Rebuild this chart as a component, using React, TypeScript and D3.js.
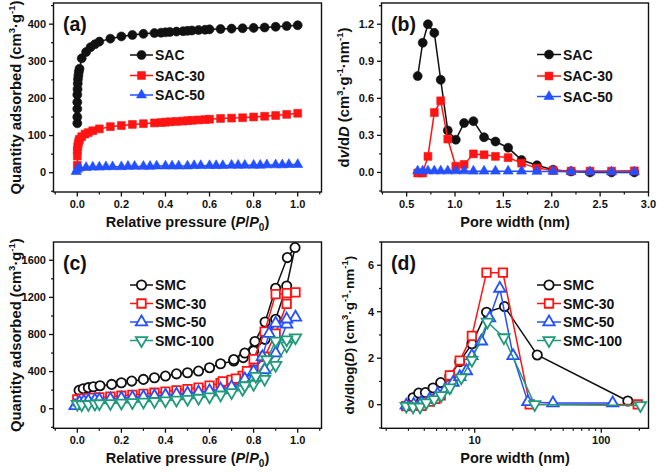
import React from "react";
import * as d3 from "d3";

type Pt = [number, number];
type Shape = "circle" | "square" | "triangle" | "down";

const FONT = "'Liberation Sans', Arial, Helvetica, sans-serif";
const NARROW = "'Liberation Sans Narrow', 'Liberation Sans', Arial, sans-serif";
const BLACK = "#111";
const RED = "#ff1414";
const BLUE = "#2450ff";
const GREEN = "#1f9a7a";

// (a) isotherms, P/P0 vs cm3/g
const sacIso: Pt[] = [
  [0, 133], [0, 150], [0, 172], [0, 190], [0, 210], [0.001, 225], [0.002, 240], [0.003, 252],
  [0.005, 262], [0.007, 272], [0.01, 280], [0.02, 308], [0.04, 325], [0.06, 338], [0.08, 346],
  [0.1, 353], [0.15, 361], [0.2, 367], [0.25, 371], [0.3, 374], [0.35, 376], [0.38, 377],
  [0.4, 378], [0.42, 379], [0.45, 380], [0.48, 381], [0.5, 382], [0.52, 383], [0.55, 384],
  [0.58, 385], [0.6, 386], [0.65, 387], [0.7, 388], [0.75, 389], [0.8, 390], [0.85, 391],
  [0.9, 393], [0.95, 395], [1.0, 397],
];
const sac30Iso: Pt[] = [
  [0, 20], [0, 45], [0, 60], [0.002, 70], [0.004, 78], [0.007, 85], [0.01, 90], [0.02, 97],
  [0.035, 104], [0.05, 108], [0.07, 113], [0.1, 118], [0.15, 124], [0.2, 127], [0.25, 130],
  [0.3, 132], [0.35, 134], [0.38, 135], [0.4, 136], [0.42, 137], [0.45, 138], [0.48, 139],
  [0.5, 140], [0.52, 141], [0.55, 142], [0.58, 143], [0.6, 144], [0.65, 146], [0.7, 147],
  [0.75, 148], [0.8, 150], [0.85, 152], [0.9, 154], [0.95, 157], [1.0, 160],
];
const sac50Iso: Pt[] = [
  [-0.005, 3], [0.0, 9], [0.01, 13], [0.04, 14], [0.07, 15], [0.1, 15], [0.13, 16], [0.16, 16],
  [0.2, 16], [0.23, 17], [0.26, 17], [0.3, 17], [0.33, 17], [0.36, 18], [0.4, 18], [0.43, 18],
  [0.46, 18], [0.5, 18], [0.53, 19], [0.56, 19], [0.6, 19], [0.63, 19], [0.66, 19], [0.7, 20],
  [0.73, 20], [0.76, 20], [0.8, 20], [0.83, 20], [0.86, 21], [0.9, 21], [0.93, 21], [0.96, 22],
  [1.0, 22],
];

// (b) pore size distribution, nm vs dV/dD
const psdWidth = [0.614, 0.666, 0.72, 0.786, 0.852, 0.925, 1.008, 1.094, 1.19, 1.3, 1.418, 1.549, 1.688, 1.847, 2.014, 2.2, 2.396, 2.618, 2.854];
const sacPsd = [0.78, 1.05, 1.2, 1.13, 0.75, 0.34, 0.265, 0.4, 0.415, 0.285, 0.25, 0.2, 0.1, 0.058, 0.022, 0.008, 0.0, 0.0, 0.0];
const sac30Psd = [-0.005, -0.005, 0.13, 0.485, 0.58, 0.27, 0.05, 0.065, 0.15, 0.143, 0.13, 0.12, 0.075, 0.035, 0.016, 0.011, 0.011, 0.011, 0.013];
const sac50Psd = [0.012, 0.012, 0.012, 0.012, 0.012, 0.012, 0.012, 0.012, 0.01, 0.01, 0.01, 0.01, 0.01, 0.008, 0.008, 0.006, 0.005, 0.004, 0.004];

// (c) isotherms with hysteresis: adsorption then desorption branch
const smcAds: Pt[] = [
  [0.008, 198], [0.027, 216], [0.05, 227], [0.073, 237], [0.103, 248], [0.156, 262], [0.2, 280],
  [0.247, 298], [0.3, 316], [0.35, 334], [0.4, 352], [0.45, 376], [0.5, 388], [0.55, 406],
  [0.6, 442], [0.65, 485], [0.71, 514], [0.753, 550], [0.8, 622], [0.852, 748], [0.9, 964],
  [0.95, 1323], [0.988, 1737],
];
const smcDes: Pt[] = [[0.953, 1629], [0.9, 1298], [0.852, 935], [0.806, 725], [0.76, 600], [0.71, 530]];
const smc30Ads: Pt[] = [
  [0, 100], [0.02, 108], [0.05, 114], [0.07, 118], [0.1, 122], [0.15, 130], [0.2, 140], [0.25, 150],
  [0.3, 160], [0.35, 172], [0.4, 185], [0.45, 198], [0.5, 212], [0.55, 228], [0.6, 250], [0.65, 275],
  [0.7, 310], [0.75, 355], [0.8, 420], [0.85, 560], [0.9, 810], [0.95, 1130], [0.99, 1255],
];
const smc30Des: Pt[] = [[0.95, 1245], [0.9, 1235], [0.85, 830], [0.8, 535], [0.77, 405], [0.72, 325], [0.66, 295]];
const smc50Ads: Pt[] = [
  [-0.01, 30], [0.01, 70], [0.03, 80], [0.05, 85], [0.08, 92], [0.1, 96], [0.15, 104], [0.2, 112],
  [0.25, 120], [0.3, 128], [0.35, 136], [0.4, 145], [0.45, 155], [0.5, 166], [0.55, 178], [0.6, 192],
  [0.65, 210], [0.7, 235], [0.75, 275], [0.8, 330], [0.85, 420], [0.9, 600], [0.95, 910], [0.99, 985],
];
const smc50Des: Pt[] = [[0.95, 965], [0.9, 920], [0.87, 810], [0.84, 560], [0.8, 400], [0.76, 320]];
const smc100Ads: Pt[] = [
  [0.0, 50], [0.02, 45], [0.05, 48], [0.08, 52], [0.1, 56], [0.15, 58], [0.2, 63], [0.25, 68],
  [0.3, 74], [0.35, 80], [0.4, 87], [0.45, 95], [0.5, 104], [0.55, 115], [0.6, 130], [0.65, 150],
  [0.7, 175], [0.75, 210], [0.8, 265], [0.85, 320], [0.9, 470], [0.95, 680], [0.99, 765],
];
const smc100Des: Pt[] = [[0.95, 745], [0.9, 730], [0.86, 530], [0.81, 350], [0.76, 250]];

// (d) pore size distribution, log nm vs dV/dlog(D)
const smcPsd: Pt[] = [
  [3.26, 0.3], [3.61, 0.5], [4.08, 0.52], [4.69, 0.72], [5.39, 0.95], [6.36, 1.23], [7.62, 1.85],
  [9.5, 2.62], [12.4, 3.98], [17.2, 4.22], [31.2, 2.14], [162, 0.16],
];
const smc30Psd: Pt[] = [
  [2.88, -0.06], [3.3, -0.04], [3.79, -0.05], [4.4, 0.13], [4.9, 0.25], [5.39, 0.4], [6.36, 1.26],
  [7.62, 1.9], [9.5, 2.96], [12.4, 5.68], [16.7, 5.68], [27.2, 0.01], [194, 0.01],
];
const smc50Psd: Pt[] = [
  [2.88, -0.03], [3.3, 0.01], [3.79, 0.09], [4.4, 0.23], [5.1, 0.45], [5.87, 0.66], [6.74, 0.95],
  [7.62, 1.2], [8.6, 1.45], [9.5, 2.1], [11.3, 2.73], [13.1, 3.73], [15.8, 5.0], [20.1, 2.1],
  [26.3, 0.12], [41.5, 0.07], [123, 0.07],
];
const smc100Psd: Pt[] = [
  [2.88, -0.06], [3.26, -0.09], [3.7, -0.09], [4.15, 0.09], [4.78, 0.23], [5.45, 0.4], [6.36, 0.73],
  [7.84, 1.16], [9.5, 1.92], [12.6, 3.56], [17.0, 2.89], [29.8, 0.01], [204, -0.03],
];

// ticks
const ppTicks = [0, 0.2, 0.4, 0.6, 0.8, 1.0];
const ppMinor = [-0.1, 0.1, 0.3, 0.5, 0.7, 0.9, 1.1];
const aYTicks = [0, 100, 200, 300, 400];
const aYMinor = [-50, 50, 150, 250, 350, 450];
const bXTicks = [0.5, 1.0, 1.5, 2.0, 2.5, 3.0];
const bXMinor = [0.25, 0.75, 1.25, 1.75, 2.25, 2.75];
const bYTicks = [0, 0.3, 0.6, 0.9, 1.2];
const bYMinor = [-0.15, 0.15, 0.45, 0.75, 1.05, 1.35];
const cYTicks = [0, 400, 800, 1200, 1600];
const cYMinor = [-200, 200, 600, 1000, 1400];
const dXTicks = [10, 100];
const dXMinor = [2, 3, 4, 5, 6, 7, 8, 9, 20, 30, 40, 50, 60, 70, 80, 90, 200];
const dYTicks = [0, 2, 4, 6];
const dYMinor = [-1, 1, 3, 5, 7];

type Series = { name: string; color: string; shape: Shape; data: Pt[] };

const zip = (xs: number[], ys: number[]): Pt[] => xs.map((v, i) => [v, ys[i]]);

const symType = (s: Shape) =>
  s === "circle" ? d3.symbolCircle : s === "square" ? d3.symbolSquare : d3.symbolTriangle;

const symSize = (s: Shape, open: boolean) => {
  if (s === "circle") return open ? 68 : 64;
  if (s === "square") return open ? 72 : 62;
  return open ? 56 : 44;
};

function Marker({ cx, cy, shape, color, open }: { cx: number; cy: number; shape: Shape; color: string; open: boolean }) {
  const d = d3.symbol().type(symType(shape)).size(symSize(shape, open))() || "";
  const rot = shape === "down" ? " rotate(180)" : "";
  return (
    <path
      d={d}
      transform={`translate(${cx},${cy})${rot}`}
      fill={open ? "#fff" : color}
      stroke={color}
      strokeWidth={open ? 1.8 : 0.6}
    />
  );
}

interface PanelProps {
  x: any;
  y: any;
  xTicks: number[];
  xMinor: number[];
  xFmt: (v: number) => string;
  yTicks: number[];
  yMinor: number[];
  yFmt: (v: number) => string;
  series: Series[];
  open: boolean;
  legend: { x0: number; x1: number; tx: number; rows: number[] };
  label: string;
  xTitle: React.ReactNode;
  yTitle: React.ReactNode;
  yTitleX: number;
  yTitleSize: number;
}

function Panel(p: PanelProps) {
  const [l, r] = p.x.range();
  const [b, t] = p.y.range();
  const line = d3.line<Pt>().x(d => p.x(d[0])).y(d => p.y(d[1]));
  return (
    <g>
      {p.series.map(s => (
        <g key={s.name}>
          <path d={line(s.data) || ""} fill="none" stroke={s.color} strokeWidth={1.5} />
          {s.data.map((d, i) => (
            <Marker key={i} cx={p.x(d[0])} cy={p.y(d[1])} shape={s.shape} color={s.color} open={p.open} />
          ))}
        </g>
      ))}
      <rect x={l} y={t} width={r - l} height={b - t} fill="none" stroke={BLACK} strokeWidth={1.4} />
      {p.xTicks.map(v => (
        <g key={"xt" + v}>
          <line x1={p.x(v)} x2={p.x(v)} y1={b} y2={b + 4.5} stroke={BLACK} strokeWidth={1.3} />
          <text x={p.x(v)} y={b + 15.5} textAnchor="middle" fontFamily={NARROW} fontWeight="bold" fontSize={11} fill={BLACK}>
            {p.xFmt(v)}
          </text>
        </g>
      ))}
      {p.xMinor.map(v => (
        <line key={"xm" + v} x1={p.x(v)} x2={p.x(v)} y1={b} y2={b + 2.5} stroke={BLACK} strokeWidth={1.2} />
      ))}
      {p.yTicks.map(v => (
        <g key={"yt" + v}>
          <line x1={l - 4.5} x2={l} y1={p.y(v)} y2={p.y(v)} stroke={BLACK} strokeWidth={1.3} />
          <text x={l - 7.5} y={p.y(v) + 3.8} textAnchor="end" fontFamily={NARROW} fontWeight="bold" fontSize={11} fill={BLACK}>
            {p.yFmt(v)}
          </text>
        </g>
      ))}
      {p.yMinor.map(v => (
        <line key={"ym" + v} x1={l - 2.5} x2={l} y1={p.y(v)} y2={p.y(v)} stroke={BLACK} strokeWidth={1.2} />
      ))}
      <text x={l + 9.5} y={t + 28} fontFamily={FONT} fontWeight="bold" fontSize={19.5} fill={BLACK}>
        {p.label}
      </text>
      {p.series.map((s, i) => {
        const yy = p.legend.rows[i];
        return (
          <g key={"lg" + s.name}>
            <line x1={p.legend.x0} x2={p.legend.x1} y1={yy} y2={yy} stroke={s.color} strokeWidth={1.5} />
            <Marker cx={(p.legend.x0 + p.legend.x1) / 2} cy={yy} shape={s.shape} color={s.color} open={p.open} />
            <text x={p.legend.tx} y={yy + 5} fontFamily={FONT} fontWeight="bold" fontSize={14} fill={BLACK}>
              {s.name}
            </text>
          </g>
        );
      })}
      <text x={(l + r) / 2} y={b + 34.5} textAnchor="middle" fontFamily={FONT} fontWeight="bold" fontSize={14.5} fill={BLACK}>
        {p.xTitle}
      </text>
      <text
        transform={`translate(${p.yTitleX},${(t + b) / 2}) rotate(-90)`}
        textAnchor="middle"
        fontFamily={FONT}
        fontWeight="bold"
        fontSize={p.yTitleSize}
        fill={BLACK}
      >
        {p.yTitle}
      </text>
    </g>
  );
}

const sup = (s: string) => [
  <tspan key={s + "a"} dy={-6} fontSize={9.5}>{s}</tspan>,
];

const ppTitle = (
  <>
    <tspan>Relative pressure (</tspan>
    <tspan fontStyle="italic">P</tspan>
    <tspan>/</tspan>
    <tspan fontStyle="italic">P</tspan>
    <tspan dy={4} fontSize={10}>0</tspan>
    <tspan dy={-4}>)</tspan>
  </>
);
const qTitle = (
  <>
    <tspan>Quantity adsorbed (cm</tspan>
    {sup("3")}
    <tspan dy={6}>·g</tspan>
    <tspan dy={-6} fontSize={9.5}>-1</tspan>
    <tspan dy={6}>)</tspan>
  </>
);
const unitTail = (
  <>
    <tspan> (cm</tspan>
    <tspan dy={-6} fontSize={9.5}>3</tspan>
    <tspan dy={6}>·g</tspan>
    <tspan dy={-6} fontSize={9.5}>-1</tspan>
    <tspan dy={6}>·nm</tspan>
    <tspan dy={-6} fontSize={9.5}>-1</tspan>
    <tspan dy={6}>)</tspan>
  </>
);
const bTitle = (
  <>
    <tspan>d</tspan>
    <tspan fontStyle="italic">v</tspan>
    <tspan>/d</tspan>
    <tspan fontStyle="italic">D</tspan>
    {unitTail}
  </>
);
const dTitle = (
  <>
    <tspan>dv/dlog(</tspan>
    <tspan fontStyle="italic">D</tspan>
    <tspan>)</tspan>
    {unitTail}
  </>
);
const pwTitle = <tspan>Pore width (nm)</tspan>;

export default function App() {
  const xa = d3.scaleLinear().domain([-0.108, 1.108]).range([53.5, 321.5]);
  const ya = d3.scaleLinear().domain([-52, 457]).range([192, 3]);
  const xb = d3.scaleLinear().domain([0.24, 3.0]).range([381.5, 648.5]);
  const yb = d3.scaleLinear().domain([-0.1585, 1.372]).range([192, 3]);
  const xc = d3.scaleLinear().domain([-0.108, 1.108]).range([53.5, 321.5]);
  const yc = d3.scaleLinear().domain([-211, 1797]).range([428.3, 242]);
  const xd = d3.scaleLog().domain([1.836, 236]).range([381.5, 648.5]);
  const yd = d3.scaleLinear().domain([-1.016, 7.0]).range([428.3, 242]);

  const f1 = d3.format(".1f");
  const f0 = d3.format("d");

  const aSeries: Series[] = [
    { name: "SAC", color: BLACK, shape: "circle", data: sacIso },
    { name: "SAC-30", color: RED, shape: "square", data: sac30Iso },
    { name: "SAC-50", color: BLUE, shape: "triangle", data: sac50Iso },
  ];
  const bSeries: Series[] = [
    { name: "SAC", color: BLACK, shape: "circle", data: zip(psdWidth, sacPsd) },
    { name: "SAC-30", color: RED, shape: "square", data: zip(psdWidth, sac30Psd) },
    { name: "SAC-50", color: BLUE, shape: "triangle", data: zip(psdWidth, sac50Psd) },
  ];
  const cSeries: Series[] = [
    { name: "SMC", color: BLACK, shape: "circle", data: [...smcAds, ...smcDes] },
    { name: "SMC-30", color: RED, shape: "square", data: [...smc30Ads, ...smc30Des] },
    { name: "SMC-50", color: BLUE, shape: "triangle", data: [...smc50Ads, ...smc50Des] },
    { name: "SMC-100", color: GREEN, shape: "down", data: [...smc100Ads, ...smc100Des] },
  ];
  const dSeries: Series[] = [
    { name: "SMC", color: BLACK, shape: "circle", data: smcPsd },
    { name: "SMC-30", color: RED, shape: "square", data: smc30Psd },
    { name: "SMC-50", color: BLUE, shape: "triangle", data: smc50Psd },
    { name: "SMC-100", color: GREEN, shape: "down", data: smc100Psd },
  ];

  return (
    <svg
      width={658}
      height={472}
      style={{ position: "absolute", left: 0, top: 0, background: "#fff" }}
    >
      <rect width={658} height={472} fill="#fff" />
      <Panel
        x={xa} y={ya} xTicks={ppTicks} xMinor={ppMinor} xFmt={f1}
        yTicks={aYTicks} yMinor={aYMinor} yFmt={f0}
        series={aSeries} open={false}
        legend={{ x0: 130, x1: 153, tx: 155, rows: [55, 75.5, 95] }}
        label="(a)" xTitle={ppTitle} yTitle={qTitle} yTitleX={21} yTitleSize={14.8}
      />
      <Panel
        x={xb} y={yb} xTicks={bXTicks} xMinor={bXMinor} xFmt={f1}
        yTicks={bYTicks} yMinor={bYMinor} yFmt={f1}
        series={bSeries} open={false}
        legend={{ x0: 537, x1: 561, tx: 563, rows: [54.5, 76, 96.5] }}
        label="(b)" xTitle={pwTitle} yTitle={bTitle} yTitleX={349} yTitleSize={14.8}
      />
      <Panel
        x={xc} y={yc} xTicks={ppTicks} xMinor={ppMinor} xFmt={f1}
        yTicks={cYTicks} yMinor={cYMinor} yFmt={f0}
        series={cSeries} open={true}
        legend={{ x0: 130, x1: 153, tx: 155, rows: [285, 303.5, 322, 340.5] }}
        label="(c)" xTitle={ppTitle} yTitle={qTitle} yTitleX={21} yTitleSize={14.8}
      />
      <Panel
        x={xd} y={yd} xTicks={dXTicks} xMinor={dXMinor} xFmt={f0}
        yTicks={dYTicks} yMinor={dYMinor} yFmt={f0}
        series={dSeries} open={true}
        legend={{ x0: 537, x1: 561, tx: 563, rows: [285, 303.5, 322, 340.5] }}
        label="(d)" xTitle={pwTitle} yTitle={dTitle} yTitleX={354} yTitleSize={13.5}
      />
    </svg>
  );
}
